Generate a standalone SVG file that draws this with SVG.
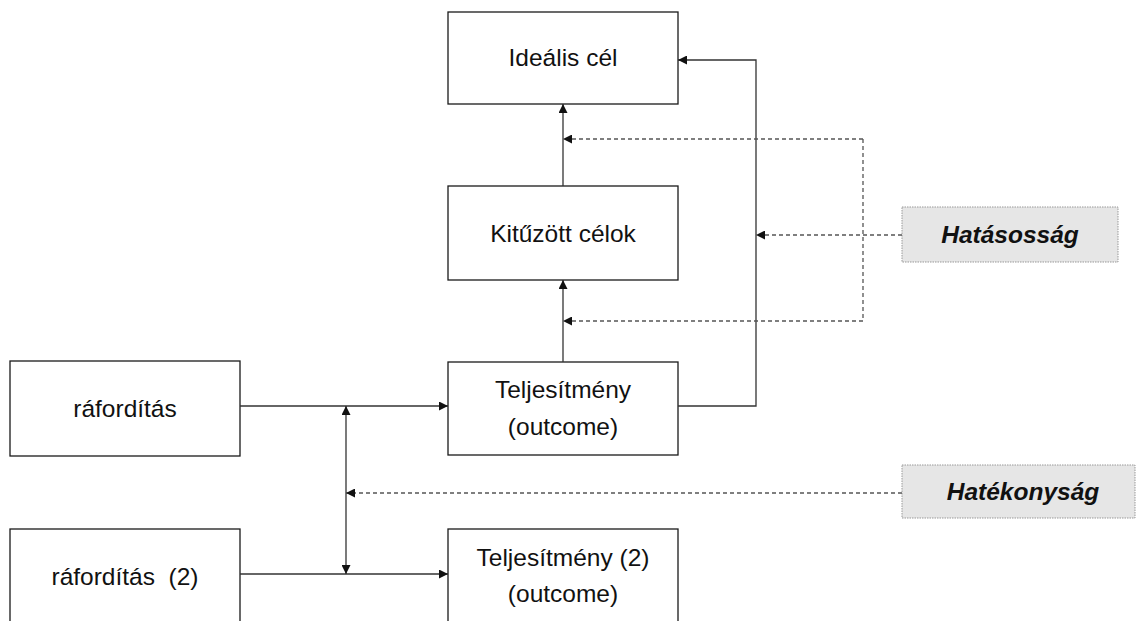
<svg xmlns="http://www.w3.org/2000/svg" width="1137" height="621" viewBox="0 0 1137 621">
<style>
.box{fill:#fff;stroke:#1a1a1a;stroke-width:1.3}
.lbl{font-family:"Liberation Sans",Arial,sans-serif;font-size:24.5px;fill:#111;text-anchor:middle}
.tag{fill:#e6e6e6;stroke:#999;stroke-width:1;stroke-dasharray:1.5 1}
.tagt{font-family:"Liberation Sans",Arial,sans-serif;font-size:24.5px;font-weight:bold;font-style:italic;fill:#111;text-anchor:middle}
.ln{fill:none;stroke:#333;stroke-width:1.3}
.dl{fill:none;stroke:#555;stroke-width:1.3;stroke-dasharray:4 3}
</style>
<defs>
<marker id="ah" viewBox="0 0 10 10" refX="10" refY="5" markerWidth="9" markerHeight="9" markerUnits="userSpaceOnUse" orient="auto-start-reverse">
<path d="M0,0 L10,5 L0,10 Z" fill="#111"/>
</marker>
</defs>
<g id="ideal"><rect class="box" x="448" y="12" width="230" height="92"/><text class="lbl" x="563" y="66">Ideális cél</text></g>
<g id="kituzott"><rect class="box" x="448" y="186" width="230" height="94"/><text class="lbl" x="563" y="242">Kitűzött célok</text></g>
<g id="teljesitmeny"><rect class="box" x="448" y="362" width="230" height="93"/><text class="lbl" x="563" y="398">Teljesítmény</text><text class="lbl" x="563" y="435">(outcome)</text></g>
<g id="teljesitmeny2"><rect class="box" x="448" y="529" width="230" height="100"/><text class="lbl" x="563" y="566">Teljesítmény (2)</text><text class="lbl" x="563" y="602">(outcome)</text></g>
<g id="raforditas"><rect class="box" x="10" y="361" width="230" height="95"/><text class="lbl" x="125" y="417">ráfordítás</text></g>
<g id="raforditas2"><rect class="box" x="10" y="529" width="230" height="100"/><text class="lbl" x="125" y="585" xml:space="preserve">ráfordítás  (2)</text></g>
<g id="hatasossag"><rect class="tag" x="902" y="207" width="216" height="55"/><text class="tagt" x="1010" y="243">Hatásosság</text></g>
<g id="hatekonysag"><rect class="tag" x="902" y="465" width="233" height="53"/><text class="tagt" x="1023" y="500">Hatékonyság</text></g>
<g id="connectors">
<path class="ln" d="M563,186 V104" marker-end="url(#ah)"/>
<path class="ln" d="M563,362 V280" marker-end="url(#ah)"/>
<path class="ln" d="M678,406 H756 V60 H678" marker-end="url(#ah)"/>
<path class="ln" d="M240,406 H448" marker-end="url(#ah)"/>
<path class="ln" d="M240,574 H448" marker-end="url(#ah)"/>
<path class="ln" d="M346,406 V574" marker-start="url(#ah)" marker-end="url(#ah)"/>
<path class="dl" d="M863,139 H563" marker-end="url(#ah)"/>
<path class="dl" d="M863,139 V321 H563" marker-end="url(#ah)"/>
<path class="dl" d="M902,235 H756" marker-end="url(#ah)"/>
<path class="dl" d="M902,493 H346" marker-end="url(#ah)"/>
</g>
</svg>
